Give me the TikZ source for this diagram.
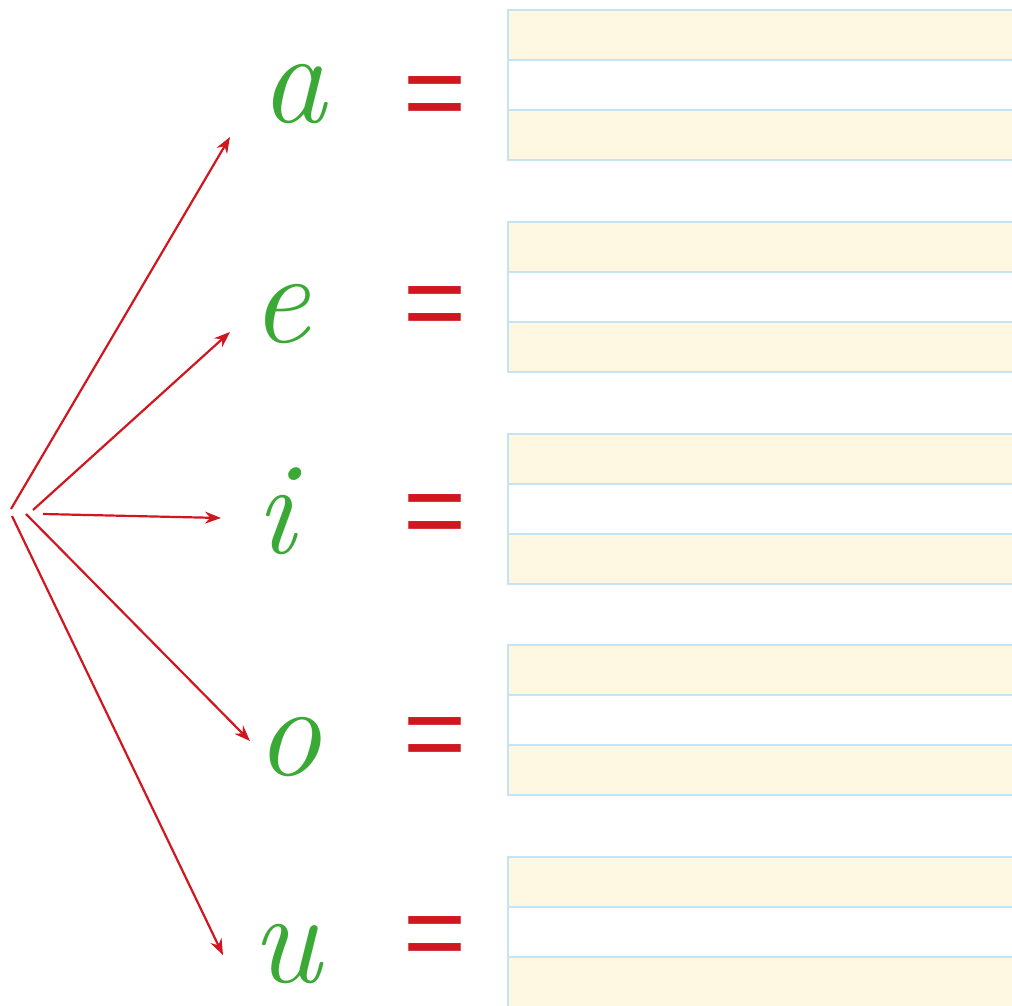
\documentclass[tikz,border=0pt]{standalone}
\usepackage{fontspec}
\usepackage{tikz}
\usetikzlibrary{arrows.meta,positioning}
\definecolor{vowelgreen}{RGB}{58,169,53}
\definecolor{signred}{RGB}{208,22,30}
\definecolor{rulerblue}{RGB}{196,228,246}
\definecolor{bandyellow}{RGB}{254,248,226}
\newfontfamily\signfont{Liberation Sans}

\begin{document}
\begin{tikzpicture}[x=0.5pt, y=-0.5pt,
  vowel/.style={anchor=base, inner sep=0pt, text=vowelgreen, font=\fontsize{66}{66}\selectfont\itshape},
  equal/.style={inner sep=0pt, text=signred, font=\signfont\fontsize{54}{54}\selectfont},
  pointer/.style={-{Stealth[length=8pt,width=6pt]}, line width=1.1pt, color=signred}]
\clip (0,0) rectangle (1012,1006);
% writing lines
\foreach \ytop in {10,222,434,645,857}{
  \fill[bandyellow] (508,\ytop) rectangle (1014,\ytop+50);
  \fill[bandyellow] (508,\ytop+100) rectangle (1014,\ytop+150);
  \draw[line width=1pt, color=rulerblue] (1014,\ytop) -- (508,\ytop) -- (508,\ytop+150) -- (1014,\ytop+150);
  \draw[line width=1pt, color=rulerblue] (508,\ytop+50) -- (1014,\ytop+50);
  \draw[line width=1pt, color=rulerblue] (508,\ytop+100) -- (1014,\ytop+100);
}
% vowels
\node[vowel] (va) at (293,123) {a};
\node[vowel] (ve) at (280,342) {e};
\node[vowel] (vi) at (275,553) {i};
\node[vowel] (vo) at (288,775) {o};
\node[vowel] (vu) at (286,982) {u};
% equal signs
\node[equal] (qa) at (435,103) {=};
\node[equal] (qe) at (435,313) {=};
\node[equal] (qi) at (435,521) {=};
\node[equal] (qo) at (435,744) {=};
\node[equal] (qu) at (435,943) {=};
% fan of arrows
\coordinate (fa) at (11,509);
\coordinate (fe) at (33,510);
\coordinate (fi) at (43,514);
\coordinate (fo) at (26,514);
\coordinate (fu) at (12,516);
\coordinate (ta) at (230,137);
\coordinate (te) at (230,332);
\coordinate (ti) at (221,518);
\coordinate (to) at (250,741);
\coordinate (tu) at (223,955);
\draw[pointer] (fa) -- (ta);
\draw[pointer] (fe) -- (te);
\draw[pointer] (fi) -- (ti);
\draw[pointer] (fo) -- (to);
\draw[pointer] (fu) -- (tu);
\end{tikzpicture}
\end{document}
